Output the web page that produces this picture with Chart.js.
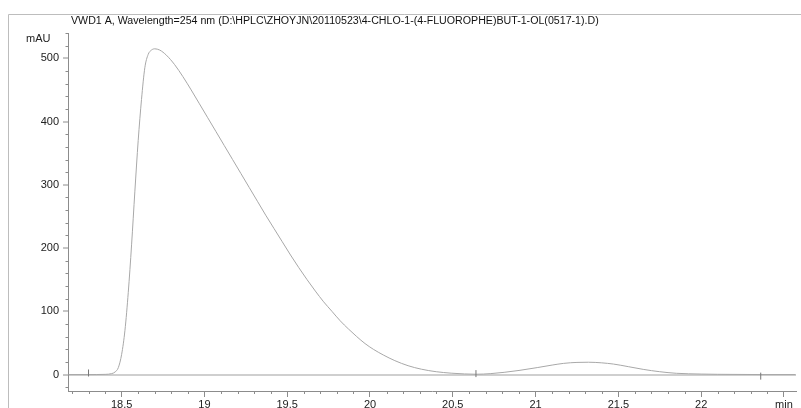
<!DOCTYPE html>
<html>
<head>
<meta charset="utf-8">
<title>VWD1 A, Wavelength=254 nm</title>
<script src="https://cdn.jsdelivr.net/npm/chart.js@4.4.1/dist/chart.umd.min.js"></script>
<style>
  html, body { margin: 0; padding: 0; background: #fff; }
  #wrap { width: 801px; height: 408px; position: relative; }
</style>
</head>
<body>
<div id="wrap"><canvas id="chrom" width="801" height="408"></canvas></div>
<script>
// Detector trace: retention time (min) and absorbance (mAU)
const retentionTime = [
  18.18, 18.30, 18.40, 18.44, 18.46, 18.48, 18.50, 18.52, 18.54, 18.56,
  18.58, 18.60, 18.62, 18.64, 18.66, 18.68, 18.70, 18.73, 18.77, 18.82,
  18.87, 18.92, 18.97, 19.02, 19.07, 19.12, 19.17, 19.22, 19.27, 19.32,
  19.37, 19.42, 19.47, 19.52, 19.57, 19.62, 19.67, 19.72, 19.77, 19.82,
  19.87, 19.92, 19.97, 20.02, 20.08, 20.15, 20.23, 20.31, 20.40, 20.49,
  20.57, 20.64, 20.73, 20.81, 20.90, 21.01, 21.10, 21.17, 21.25, 21.32,
  21.40, 21.47, 21.56, 21.65, 21.75, 21.85, 22.00, 22.10, 22.36, 22.57
];
const absorbance = [
  0, 0, 0.3, 1.5, 4, 11, 32, 70, 130, 205,
  290, 370, 435, 485, 506, 513, 515, 513, 505, 490,
  471, 450, 428, 406, 384, 362, 340, 318, 296, 274,
  252, 231, 210, 189, 169, 150, 132, 115, 100, 85,
  72, 60, 49, 40, 31, 22, 14, 8.5, 4.5, 2.2,
  1, 0.5, 1.5, 3.5, 6.5, 11, 15, 17.7, 19.2, 19.5,
  18.5, 16.6, 12.5, 8.2, 4.5, 2, 0.8, 0.4, 0, 0
];

// Integration event markers on the baseline
const eventTime = [18.30, 20.64, 22.36];
const eventLevel = [2.5, 1.5, -2.5];

// Axis settings
const xMin = 18.176, xMax = 22.573, xStep = 0.1;
const yMin = -26, yMax = 540, yStep = 20;
const chartTitle = 'VWD1 A, Wavelength=254 nm (D:\\HPLC\\ZHOYJN\\20110523\\4-CHLO-1-(4-FLUOROPHE)BUT-1-OL(0517-1).D)';
const yUnit = 'mAU';
const xUnit = 'min';

const FONT = '"Liberation Sans", Arial, Helvetica, sans-serif';
const TEXT = '#222';
const AXIS = '#8c8c8c';

const isMajorX = v => Math.abs(v * 2 - Math.round(v * 2)) < 1e-6;
const isMajorY = v => Math.abs(v / 100 - Math.round(v / 100)) < 1e-6;

const tracePoints = retentionTime.map((t, i) => ({ x: t, y: absorbance[i] }));
const eventPoints = eventTime.map((t, i) => ({ x: t, y: eventLevel[i] }));

// Frame, title, unit label and short minor ticks
const decorations = {
  id: 'decorations',
  afterDraw(chart) {
    const ctx = chart.ctx;
    const xs = chart.scales.x, ys = chart.scales.y;
    const area = chart.chartArea;
    ctx.save();
    // outer frame
    ctx.strokeStyle = '#bdbdbd';
    ctx.lineWidth = 1;
    ctx.beginPath();
    ctx.moveTo(8.5, 408);
    ctx.lineTo(8.5, 14.5);
    ctx.lineTo(801, 14.5);
    ctx.stroke();
    // minor ticks
    ctx.strokeStyle = AXIS;
    ctx.beginPath();
    ys.ticks.forEach(tk => {
      if (isMajorY(tk.value)) return;
      const py = Math.round(ys.getPixelForValue(tk.value)) + 0.5;
      ctx.moveTo(area.left - 2.5, py);
      ctx.lineTo(area.left, py);
    });
    xs.ticks.forEach(tk => {
      if (isMajorX(tk.value)) return;
      const px = Math.round(xs.getPixelForValue(tk.value)) + 0.5;
      ctx.moveTo(px, area.bottom);
      ctx.lineTo(px, area.bottom + 3);
    });
    ctx.stroke();
    // title and unit
    ctx.fillStyle = '#111';
    ctx.font = '10.65px ' + FONT;
    ctx.textBaseline = 'middle';
    ctx.textAlign = 'left';
    ctx.fillText(chartTitle, 71, 21);
    ctx.fillStyle = TEXT;
    ctx.font = '11px ' + FONT;
    ctx.fillText(yUnit, 26, 39);
    ctx.restore();
  }
};

new Chart(document.getElementById('chrom'), {
  type: 'scatter',
  data: {
    datasets: [
      {
        data: tracePoints,
        showLine: true,
        borderColor: '#a8a8a8',
        borderWidth: 1,
        pointRadius: 0,
        cubicInterpolationMode: 'monotone',
        order: 1
      },
      {
        data: eventPoints,
        showLine: false,
        pointStyle: 'line',
        rotation: 90,
        pointRadius: 3.5,
        borderColor: '#777',
        borderWidth: 1,
        order: 0
      }
    ]
  },
  options: {
    responsive: false,
    animation: false,
    devicePixelRatio: 1,
    layout: { padding: { left: 0, right: 0, top: 33, bottom: 0 } },
    plugins: {
      legend: { display: false },
      tooltip: { enabled: false },
      title: { display: false }
    },
    scales: {
      x: {
        type: 'linear',
        position: 'bottom',
        min: xMin,
        max: xMax,
        afterFit: s => { s.height = 17; },
        border: { color: AXIS, width: 1 },
        grid: {
          drawOnChartArea: false,
          tickLength: 6,
          tickWidth: 1,
          tickColor: c => (c.tick && isMajorX(c.tick.value)) ? AXIS : 'rgba(0,0,0,0)'
        },
        ticks: {
          stepSize: xStep,
          includeBounds: false,
          autoSkip: false,
          maxRotation: 0,
          padding: 1,
          color: TEXT,
          font: { family: FONT, size: 11 },
          callback: v => {
            if (!isMajorX(v)) return '';
            if (Math.abs(v - 22.5) < 1e-6) return xUnit;
            return String(Math.round(v * 10) / 10);
          }
        }
      },
      y: {
        type: 'linear',
        min: yMin,
        max: yMax,
        afterFit: s => { s.width = 68; },
        border: { color: AXIS, width: 1 },
        grid: {
          drawOnChartArea: true,
          tickLength: 5,
          tickWidth: 1,
          color: c => (c.tick && c.tick.value === 0) ? '#cfcfcf' : 'rgba(0,0,0,0)',
          lineWidth: c => (c.tick && c.tick.value === 0) ? 2 : 0,
          tickColor: c => (c.tick && isMajorY(c.tick.value)) ? AXIS : 'rgba(0,0,0,0)'
        },
        ticks: {
          stepSize: yStep,
          includeBounds: false,
          autoSkip: false,
          padding: 4,
          color: TEXT,
          font: { family: FONT, size: 11 },
          callback: v => isMajorY(v) ? String(v) : ''
        }
      }
    }
  },
  plugins: [decorations]
});
</script>
</body>
</html>
